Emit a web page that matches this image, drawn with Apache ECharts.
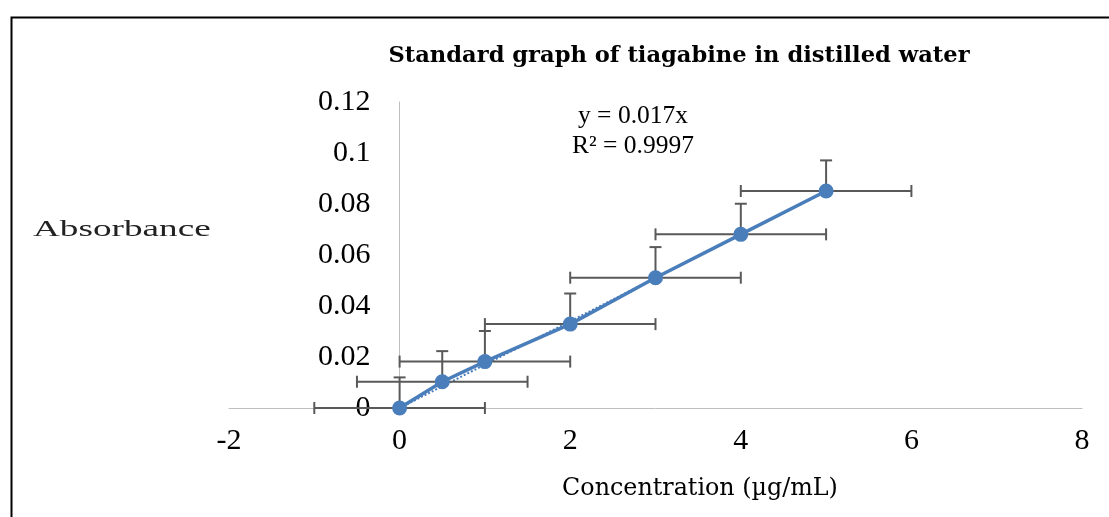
<!DOCTYPE html>
<html lang="en">
<head>
	<meta charset="UTF-8">
	<title>Standard graph</title>
	<script type="text/javascript" src="https://cdn.jsdelivr.net/npm/echarts@6/dist/echarts.min.js"></script>
	<style type="text/css">
		html,body{margin:0;padding:0;background:#fff;}
	</style>
</head>
<body>
	<div id="main" style="width:1109px;height:517px;"></div>

	<script>
		// data
		var concentration = [0, 0.5, 1, 2, 3, 4, 5];
		var absorbance = [0, 0.0103, 0.0182, 0.0329, 0.0511, 0.0681, 0.0851];
		var yErrorPlus = [0.012, 0.012, 0.012, 0.012, 0.012, 0.012, 0.012];
		var xError = [1, 1, 1, 1, 1, 1, 1];
		var trendSlope = 0.017;
		var trendX = [0, 5];
		var equationText = 'y = 0.017x';
		var r2Text = 'R² = 0.9997';

		var blue = '#4a7ebb';
		var barColor = '#595959';

		var points = [];
		var errRows = [];
		for (var i = 0; i < concentration.length; i++) {
			points.push([concentration[i], absorbance[i]]);
			errRows.push([concentration[i], absorbance[i], yErrorPlus[i], xError[i]]);
		}
		var trend = [];
		for (var j = 0; j < trendX.length; j++) {
			trend.push([trendX[j], trendX[j] * trendSlope]);
		}

		function renderErr(params, api) {
			var x = api.value(0), y = api.value(1);
			var ey = api.value(2), ex = api.value(3);
			var c = api.coord([x, y]);
			var top = api.coord([x, y + ey]);
			var left = api.coord([x - ex, y]);
			var right = api.coord([x + ex, y]);
			var cap = 6;
			var st = {stroke: barColor, lineWidth: 2};
			return {
				type: 'group',
				children: [
					{type: 'line', shape: {x1: left[0], y1: c[1], x2: right[0], y2: c[1]}, style: st},
					{type: 'line', shape: {x1: left[0], y1: c[1] - cap, x2: left[0], y2: c[1] + cap}, style: st},
					{type: 'line', shape: {x1: right[0], y1: c[1] - cap, x2: right[0], y2: c[1] + cap}, style: st},
					{type: 'line', shape: {x1: c[0], y1: c[1], x2: c[0], y2: top[1]}, style: st},
					{type: 'line', shape: {x1: c[0] - cap, y1: top[1], x2: c[0] + cap, y2: top[1]}, style: st}
				]
			};
		}

		var chart = echarts.init(document.getElementById('main'));
		var option = {
			animation: false,
			backgroundColor: '#fff',
			grid: {left: 229, right: 27, top: 102, bottom: 109},
			graphic: [
				{type: 'rect', left: 9, top: 15, shape: {width: 1110, height: 510},
					style: {fill: 'none', stroke: '#000', lineWidth: 2}, z: -1},
				{type: 'text', x: 679, y: 56, style: {text: 'Standard graph of tiagabine in distilled water',
					font: 'bold 22.6px "DejaVu Serif"', fill: '#000', textAlign: 'center', textVerticalAlign: 'middle'}},
				{type: 'text', x: 633, y: 116, style: {text: equationText,
					font: '25.5px "Liberation Serif"', fill: '#000', textAlign: 'center', textVerticalAlign: 'middle'}},
				{type: 'text', x: 633, y: 146, style: {text: r2Text,
					font: '25.5px "Liberation Serif"', fill: '#000', textAlign: 'center', textVerticalAlign: 'middle'}},
				{type: 'text', x: 33, y: 230, scaleX: 1.55, style: {text: 'Absorbance',
					font: '24px "Liberation Serif"', fill: '#222', textAlign: 'left', textVerticalAlign: 'middle'}},
				{type: 'text', x: 700, y: 489, style: {text: 'Concentration (µg/mL)',
					font: '23.8px "DejaVu Serif"', fill: '#000', textAlign: 'center', textVerticalAlign: 'middle'}}
			],
			xAxis: {
				type: 'value',
				min: -2, max: 8, interval: 2,
				axisLine: {onZero: true, lineStyle: {color: '#bfbfbf', width: 1}},
				axisTick: {show: false},
				splitLine: {show: false},
				axisLabel: {color: '#000', fontFamily: 'Liberation Serif', fontSize: 30, margin: 18}
			},
			yAxis: {
				type: 'value',
				min: 0, max: 0.12, interval: 0.02,
				// axis sits where x = 0 (two x-units right of the grid's left edge)
				offset: -170.6,
				axisLine: {show: true, onZero: false, lineStyle: {color: '#bfbfbf', width: 1}},
				axisTick: {show: false},
				splitLine: {show: false},
				axisLabel: {color: '#000', fontFamily: 'Liberation Serif', fontSize: 30, margin: 29}
			},
			series: [
				{
					type: 'line',
					data: trend,
					symbol: 'none',
					lineStyle: {color: blue, width: 2, type: 'dotted'},
					z: 1
				},
				{
					type: 'custom',
					data: errRows,
					renderItem: renderErr,
					z: 2
				},
				{
					type: 'line',
					data: points,
					symbol: 'circle',
					symbolSize: 15,
					itemStyle: {color: blue},
					lineStyle: {color: blue, width: 3.5},
					z: 3
				}
			]
		};
		chart.setOption(option);
	</script>
</body>
</html>
